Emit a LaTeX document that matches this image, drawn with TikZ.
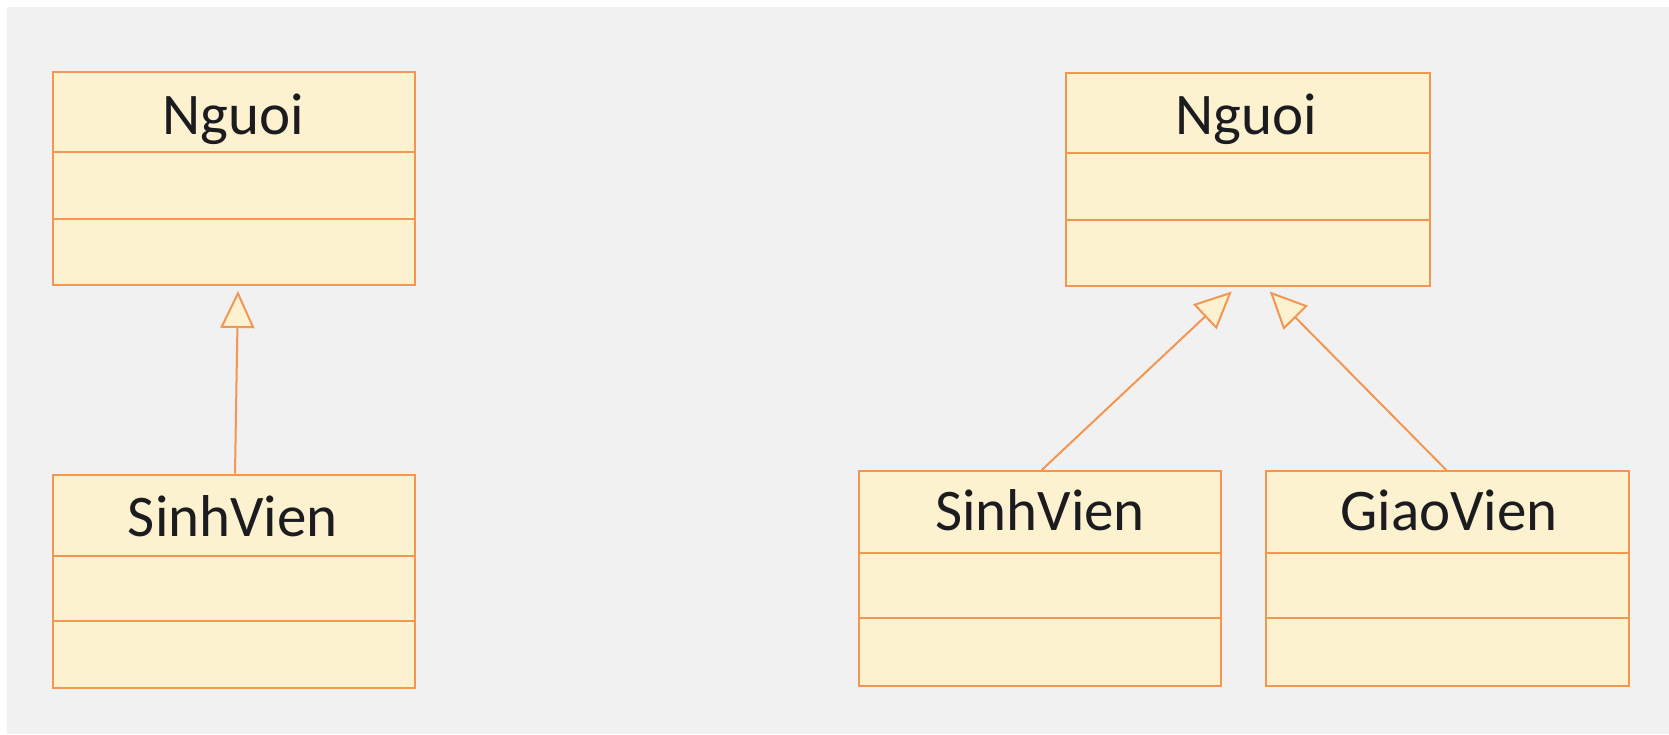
\documentclass[tikz,border=0pt]{standalone}
\usepackage{fontspec}
\setmainfont{Carlito}
\usetikzlibrary{arrows.meta}
\definecolor{bggray}{RGB}{241,241,241}
\definecolor{cream}{RGB}{252,242,208}
\definecolor{umlorange}{RGB}{243,150,82}
\definecolor{txt}{RGB}{28,28,32}
\tikzset{
  clsbox/.style={draw=umlorange, fill=cream, line width=2pt, inner sep=0pt, anchor=north west},
  divline/.style={draw=umlorange, line width=2pt},
  clsname/.style={anchor=base, inner sep=0pt, text=txt, font=\fontsize{59}{70}\selectfont},
  gen/.style={draw=umlorange, line width=2pt, -{Triangle[width=34pt,length=37pt,fill=cream,line join=miter]}}
}
\newcommand\umlclassbox[8]{%
  \pgfmathsetmacro{\clsw}{#4-#2}%
  \pgfmathsetmacro{\clsh}{#5-#3}%
  \node[clsbox, minimum width=\clsw pt, minimum height=\clsh pt] (#1) at (#2,#3) {};
  \draw[divline] (#2,#6) -- (#4,#6);
  \draw[divline] (#2,#7) -- (#4,#7);
  \node[clsname] (#1-name) at ({(#2+#4)/2},#8) {\strut};
}
\begin{document}
\begin{tikzpicture}[x=1pt,y=-1pt]
\useasboundingbox (0,0) rectangle (1669,734);
\fill[white] (0,0) rectangle (1669,734);
\fill[bggray] (7,7) rectangle (1669,734);

% left diagram
\node[clsbox, minimum width=362pt, minimum height=213pt] (n1) at (52,71) {};
\draw[divline] (52,152) -- (414,152);
\draw[divline] (52,219) -- (414,219);
\node[clsname] (n1name) at (233,134) {Nguoi};

\node[clsbox, minimum width=362pt, minimum height=213pt] (s1) at (52,473.5) {};
\draw[divline] (52,556) -- (414,556);
\draw[divline] (52,621) -- (414,621);
\node[clsname] (s1name) at (233,536) {SinhVien};

% right diagram
\node[clsbox, minimum width=363.5pt, minimum height=213pt] (n2) at (1065,71.5) {};
\draw[divline] (1065,152.5) -- (1428.5,152.5);
\draw[divline] (1065,220) -- (1428.5,220);
\node[clsname] (n2name) at (1246.5,134.3) {Nguoi};

\node[clsbox, minimum width=361.5pt, minimum height=215pt] (s2) at (858,470) {};
\draw[divline] (858,552.7) -- (1219.5,552.7);
\draw[divline] (858,618) -- (1219.5,618);
\node[clsname] (s2name) at (1040,530.7) {SinhVien};

\node[clsbox, minimum width=363.5pt, minimum height=215pt] (g2) at (1264.5,470) {};
\draw[divline] (1264.5,552.7) -- (1628,552.7);
\draw[divline] (1264.5,618) -- (1628,618);
\node[clsname] (g2name) at (1449,530.7) {GiaoVien};

% generalisation arrows
\coordinate (t1) at ([xshift=4pt,yshift=-5pt]n1.south);
\coordinate (t2) at ([xshift=-16pt,yshift=-5pt]n2.south);
\coordinate (t3) at ([xshift=22pt,yshift=-5pt]n2.south);
\draw[gen] ([xshift=1pt]s1.north) -- (t1);
\draw[gen] ([xshift=2pt]s2.north) -- (t2);
\draw[gen] ([xshift=-1pt]g2.north) -- (t3);
\end{tikzpicture}
\end{document}
